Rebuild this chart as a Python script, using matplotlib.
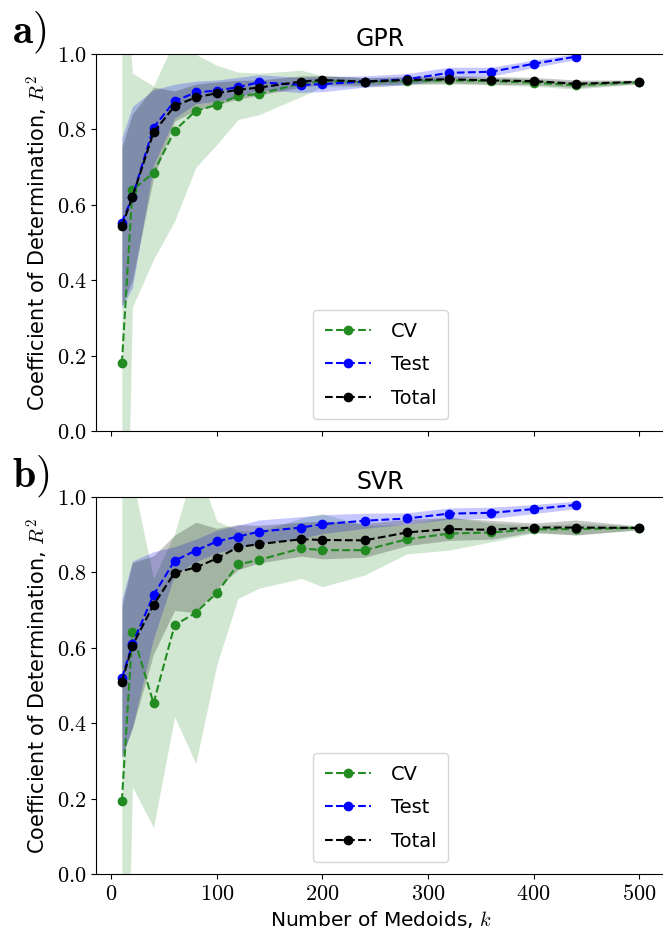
import matplotlib
matplotlib.use("Agg")
import matplotlib.pyplot as plt
from matplotlib.ticker import FuncFormatter, MultipleLocator
import numpy as np

plt.rcParams['mathtext.fontset'] = 'cm'
plt.rcParams['font.family'] = ['DejaVu Sans']

# number of medoids
k_all = [10, 20, 40, 60, 80, 100, 120, 140, 180, 200, 240, 280, 320, 360, 400, 440, 500]
k_test = k_all[:16]

# ---- GPR ----
gpr_cv = [0.180, 0.639, 0.685, 0.797, 0.849, 0.865, 0.889, 0.894, 0.922, 0.928,
          0.925, 0.928, 0.930, 0.928, 0.924, 0.917, 0.925]
gpr_cv_sd = [1.14, 0.31, 0.23, 0.24, 0.15, 0.105, 0.063, 0.055, 0.035, 0.015,
             0.012, 0.01, 0.01, 0.01, 0.01, 0.01, 0.005]
gpr_test = [0.553, 0.621, 0.805, 0.875, 0.898, 0.903, 0.912, 0.925, 0.918, 0.920,
            0.927, 0.933, 0.950, 0.953, 0.974, 0.993]
gpr_test_sd = [0.225, 0.24, 0.10, 0.045, 0.03, 0.028, 0.026, 0.02, 0.02, 0.02,
               0.015, 0.015, 0.015, 0.012, 0.01, 0.008]
gpr_tot = [0.543, 0.621, 0.792, 0.862, 0.885, 0.896, 0.905, 0.911, 0.927, 0.931,
           0.927, 0.931, 0.933, 0.930, 0.928, 0.921, 0.926]
gpr_tot_sd = [0.21, 0.22, 0.12, 0.04, 0.035, 0.03, 0.025, 0.02, 0.015, 0.012,
              0.01, 0.01, 0.01, 0.01, 0.01, 0.01, 0.005]

# ---- SVR ----
svr_cv = [0.194, 0.641, 0.453, 0.660, 0.693, 0.746, 0.821, 0.833, 0.864, 0.859,
          0.859, 0.888, 0.903, 0.906, 0.914, 0.915, 0.918]
svr_cv_sd = [1.2, 0.41, 0.33, 0.243, 0.40, 0.19, 0.09, 0.075, 0.08, 0.097,
             0.066, 0.039, 0.044, 0.025, 0.01, 0.015, 0.005]
svr_test = [0.519, 0.610, 0.740, 0.831, 0.858, 0.882, 0.895, 0.908, 0.919, 0.928,
            0.937, 0.943, 0.956, 0.958, 0.968, 0.979]
svr_test_sd = [0.21, 0.22, 0.115, 0.037, 0.03, 0.03, 0.03, 0.031, 0.029, 0.025,
               0.02, 0.015, 0.015, 0.015, 0.012, 0.01]
svr_tot = [0.510, 0.606, 0.714, 0.799, 0.813, 0.837, 0.867, 0.875, 0.888, 0.886,
           0.885, 0.906, 0.915, 0.913, 0.919, 0.919, 0.918]
svr_tot_sd = [0.2, 0.22, 0.13, 0.1, 0.12, 0.08, 0.06, 0.05, 0.045, 0.05,
              0.045, 0.035, 0.03, 0.025, 0.012, 0.02, 0.005]

panels = [
    ("GPR", r"$\mathbf{a)}$", gpr_cv, gpr_cv_sd, gpr_test, gpr_test_sd, gpr_tot, gpr_tot_sd),
    ("SVR", r"$\mathbf{b)}$", svr_cv, svr_cv_sd, svr_test, svr_test_sd, svr_tot, svr_tot_sd),
]

fig = plt.figure(figsize=(6.63, 9.30), dpi=100)
W, H = 663.0, 930.0
ax_left = 96 / W
ax_w = (665 - 96) / W
ax_h = 377 / H
bottoms = [(H - 431) / H, (H - 874) / H]
label_y = [1 - 42.7 / H, 1 - 487 / H]

for i, (name, tag, cv, cv_sd, te, te_sd, to, to_sd) in enumerate(panels):
    ax = fig.add_axes([ax_left, bottoms[i], ax_w, ax_h])

    cv = np.array(cv); cv_sd = np.array(cv_sd)
    te = np.array(te); te_sd = np.array(te_sd)
    to = np.array(to); to_sd = np.array(to_sd)

    ax.fill_between(k_all, cv - cv_sd, cv + cv_sd, color='forestgreen', alpha=0.2, lw=0)
    ax.plot(k_all, cv, '--o', color='forestgreen', lw=1.5, ms=6, label='CV')
    ax.fill_between(k_test, te - te_sd, te + te_sd, color='blue', alpha=0.22, lw=0)
    ax.plot(k_test, te, '--o', color='blue', lw=1.5, ms=6, label='Test')
    ax.fill_between(k_all, to - to_sd, to + to_sd, color='black', alpha=0.22, lw=0)
    ax.plot(k_all, to, '--o', color='black', lw=1.5, ms=6, label='Total')

    ax.set_xlim(-14.5, 524.5)
    ax.set_ylim(0, 1.0)
    ax.spines['right'].set_visible(False)
    ax.xaxis.set_major_locator(MultipleLocator(100))
    ax.yaxis.set_major_locator(MultipleLocator(0.2))
    ax.yaxis.set_major_formatter(FuncFormatter(lambda v, p: r'$%.1f$' % v))
    ax.xaxis.set_major_formatter(FuncFormatter(lambda v, p: r'$%d$' % round(v)))
    ax.tick_params(labelsize=16)
    if i == 0:
        ax.tick_params(labelbottom=False)
    else:
        ax.set_xlabel(r'Number of Medoids, $k$', fontsize=14.5)

    ax.set_ylabel(r'Coefficient of Determination, $R^2$', fontsize=15)
    ax.set_title(name, fontsize=17)
    ax.legend(loc='lower center', fontsize=14, labelspacing=0.75, handlelength=2.4,
              handletextpad=1.0, borderpad=0.6, borderaxespad=0.6)

    fig.text(0.018, label_y[i], tag, fontsize=30, va='baseline', ha='left')

fig.savefig('out.png', dpi=100)
